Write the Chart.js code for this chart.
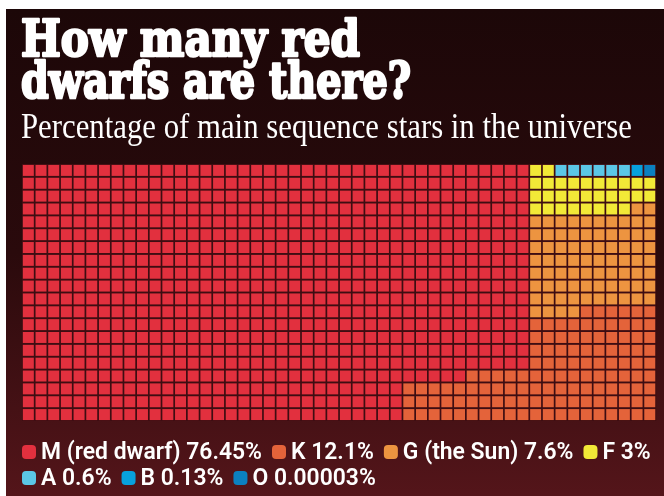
<!DOCTYPE html>
<html>
<head>
<meta charset="utf-8">
<script src="https://cdn.jsdelivr.net/npm/chart.js@4.4.1/dist/chart.umd.min.js"></script>
<style>
  html, body { margin: 0; padding: 0; background: #fff; }
  canvas { display: block; }
</style>
</head>
<body>
<canvas id="chart" width="664" height="496"></canvas>
<script>
// star classes, legend order
const starClasses = ['M (red dwarf)', 'K', 'G (the Sun)', 'F', 'A', 'B', 'O'];
const sharePercent = [76.45, 12.1, 7.6, 3, 0.6, 0.13, 0.00003];
const shareLabels = ['76.45%', '12.1%', '7.6%', '3%', '0.6%', '0.13%', '0.00003%'];
// squares per class on the 1,000-square grid as printed (O gets one so it shows)
const squareCounts = [765, 121, 76, 30, 6, 1, 1];

const classColours = ['#e2303e', '#e4633a', '#ed9440', '#f2e937', '#5bc7e6', '#07a1dd', '#0b80c0'];

const GRID_COLS = 50;
const GRID_ROWS = 20;
const SIDE_BLOCK = 10; // right-hand block that holds the smaller classes

// Smaller classes go first, smallest first: top row of the side block right to left,
// then the rest of the block row by row, then overflow into the bottom of the main field.
function buildCells() {
  const owner = [];
  for (let r = 0; r < GRID_ROWS; r++) owner.push(new Array(GRID_COLS).fill(0));
  const start = GRID_COLS - SIDE_BLOCK;
  const path = [];
  for (let c = GRID_COLS - 1; c >= start; c--) path.push([c, 0]);
  for (let r = 1; r < GRID_ROWS; r++)
    for (let c = start; c < GRID_COLS; c++) path.push([c, r]);
  for (let r = GRID_ROWS - 1; r >= 0; r--)
    for (let c = start - 1; c >= start - SIDE_BLOCK; c--) path.push([c, r]);
  let k = 0;
  for (let i = starClasses.length - 1; i >= 1; i--) {
    for (let n = 0; n < squareCounts[i]; n++) {
      const [c, r] = path[k++];
      owner[r][c] = i;
    }
  }
  const cells = [];
  for (let r = 0; r < GRID_ROWS; r++)
    for (let c = 0; c < GRID_COLS; c++) cells.push({ col: c, row: r, cls: owner[r][c] });
  return cells;
}

const cells = buildCells();

function cellRadius(ctx) {
  const area = ctx.chart.chartArea;
  if (!area) return 7.9;
  const w = area.width / GRID_COLS;
  const h = area.height / GRID_ROWS;
  return (Math.min(w, h) - 1.7) / Math.SQRT2;
}

// draw text squeezed/stretched to a given width, optionally thickened with a stroke
function fitText(ctx, text, x, y, width, weight) {
  const w = ctx.measureText(text).width;
  ctx.save();
  ctx.translate(x, y);
  ctx.scale(width / w, 1);
  if (weight) {
    ctx.lineWidth = weight;
    ctx.lineJoin = 'round';
    ctx.strokeText(text, 0, 0);
  }
  ctx.fillText(text, 0, 0);
  ctx.restore();
}

const backdrop = {
  id: 'backdrop',
  beforeDraw(chart) {
    const ctx = chart.ctx;
    const W = chart.width, H = chart.height;
    ctx.save();
    ctx.fillStyle = '#ffffff';
    ctx.fillRect(0, 0, W, H);
    const g = ctx.createLinearGradient(0, 9, 0, H);
    g.addColorStop(0, '#1c0708');
    g.addColorStop(0.5, '#2a0a0c');
    g.addColorStop(1, '#54151a');
    ctx.fillStyle = g;
    ctx.fillRect(6, 9, W - 6, H - 9);

    ctx.fillStyle = '#ffffff';
    ctx.strokeStyle = '#ffffff';
    ctx.textBaseline = 'alphabetic';
    ctx.font = 'bold 50px "DejaVu Serif"';
    fitText(ctx, 'How many red', 21, 56, 339, 2.6);
    fitText(ctx, 'dwarfs are there?', 21, 98, 390, 2.6);
    ctx.font = '35px "Liberation Serif"';
    fitText(ctx, 'Percentage of main sequence stars in the universe', 21, 138, 611);
    ctx.restore();
  },
  beforeDatasetsDraw(chart) {
    const { ctx, chartArea: a } = chart;
    ctx.save();
    ctx.fillStyle = '#3e0d12';
    ctx.fillRect(a.left, a.top, a.width, a.height);
    ctx.restore();
  },
  afterDraw(chart) {
    const ctx = chart.ctx;
    ctx.save();
    ctx.font = '600 24px Roboto';
    ctx.textBaseline = 'middle';
    const first = starClasses[0] + ' ' + shareLabels[0];
    const sx = 221 / ctx.measureText(first).width;
    const box = 14, boxGap = 5, itemGap = 10;
    const left = 22, right = 660;
    let x = left, y = 452;
    starClasses.forEach((name, i) => {
      const text = name + ' ' + shareLabels[i];
      const tw = ctx.measureText(text).width * sx;
      if (x + box + boxGap + tw > right) { x = left; y += 26; }
      ctx.fillStyle = classColours[i];
      ctx.beginPath();
      ctx.roundRect(x, y - box / 2, box, box, 4);
      ctx.fill();
      ctx.fillStyle = '#ffffff';
      ctx.save();
      ctx.translate(x + box + boxGap, y + 1);
      ctx.scale(sx, 1);
      ctx.fillText(text, 0, 0);
      ctx.restore();
      x += box + boxGap + tw + itemGap;
    });
    ctx.restore();
  }
};

new Chart(document.getElementById('chart'), {
  type: 'scatter',
  data: {
    datasets: starClasses.map((name, i) => ({
      label: name,
      data: cells.filter(c => c.cls === i).map(c => ({ x: c.col, y: c.row })),
      backgroundColor: classColours[i],
      pointBorderWidth: 0,
      pointStyle: 'rect',
      pointRadius: cellRadius,
    })),
  },
  options: {
    responsive: false,
    animation: false,
    events: [],
    layout: { padding: { left: 22, right: 6, top: 164, bottom: 75 } },
    scales: {
      x: { type: 'linear', min: -0.5, max: GRID_COLS - 0.5, display: false },
      y: { type: 'linear', min: -0.5, max: GRID_ROWS - 0.5, reverse: true, display: false },
    },
    plugins: {
      legend: { display: false },
      tooltip: { enabled: false },
    },
  },
  plugins: [backdrop],
});
</script>
</body>
</html>
